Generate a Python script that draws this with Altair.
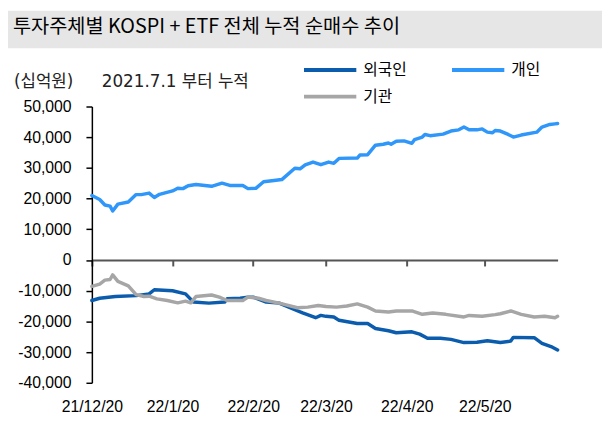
import altair as alt
import pandas as pd

# ---------------- data ----------------
series_names = ["외국인", "개인", "기관"]
series_colors = ["#0B5CAD", "#2F96FA", "#A6A6A6"]

foreign_dates = [
    "2021-12-20", "2021-12-23", "2021-12-29", "2022-01-06", "2022-01-11", "2022-01-13",
    "2022-01-20", "2022-01-25", "2022-01-28", "2022-02-03", "2022-02-09", "2022-02-10",
    "2022-02-15", "2022-02-18", "2022-02-20", "2022-02-25", "2022-03-02", "2022-03-08",
    "2022-03-11", "2022-03-16", "2022-03-18", "2022-03-20", "2022-03-23", "2022-03-25",
    "2022-04-01", "2022-04-05", "2022-04-08", "2022-04-13", "2022-04-16", "2022-04-22",
    "2022-04-25", "2022-04-28", "2022-05-03", "2022-05-07", "2022-05-12", "2022-05-17",
    "2022-05-21", "2022-05-26", "2022-05-30", "2022-05-31", "2022-06-08", "2022-06-11",
    "2022-06-15", "2022-06-17",
]
foreign_values = [
    -13200, -12450, -11900, -11600, -11050, -9680,
    -10000, -11050, -13700, -14050, -13700, -12650,
    -12450, -12100, -12100, -13700, -14050, -16200,
    -17250, -18800, -18050, -18350, -18550, -19650,
    -20700, -20700, -22300, -23050, -23700, -23400,
    -24150, -25500, -25500, -25850, -26900, -26800,
    -26300, -26900, -26400, -25200, -25300, -27150,
    -28400, -29300,
]

retail_dates = [
    "2021-12-20", "2021-12-23", "2021-12-25", "2021-12-27", "2021-12-28", "2021-12-30",
    "2022-01-03", "2022-01-06", "2022-01-08", "2022-01-11", "2022-01-13", "2022-01-15",
    "2022-01-20", "2022-01-22", "2022-01-24", "2022-01-26", "2022-01-29", "2022-02-04",
    "2022-02-08", "2022-02-11", "2022-02-16", "2022-02-18", "2022-02-21", "2022-02-24",
    "2022-02-28", "2022-03-03", "2022-03-08", "2022-03-10", "2022-03-12", "2022-03-15",
    "2022-03-18", "2022-03-21", "2022-03-23", "2022-03-25", "2022-04-01", "2022-04-02",
    "2022-04-05", "2022-04-08", "2022-04-11", "2022-04-13", "2022-04-14", "2022-04-16",
    "2022-04-19", "2022-04-22", "2022-04-23", "2022-04-26", "2022-04-27", "2022-04-29",
    "2022-05-04", "2022-05-07", "2022-05-10", "2022-05-12", "2022-05-14", "2022-05-17",
    "2022-05-19", "2022-05-21", "2022-05-23", "2022-05-24", "2022-05-26", "2022-05-29",
    "2022-05-31", "2022-06-03", "2022-06-09", "2022-06-11", "2022-06-14", "2022-06-16",
    "2022-06-17",
]
retail_values = [
    21000, 19700, 17900, 17550, 15950, 18200,
    18900, 21300, 21300, 21800, 20350, 21400,
    22500, 23400, 23250, 24200, 24600, 24000,
    25050, 24300, 24300, 23250, 23350, 25500,
    25900, 26200, 29900, 29700, 31000, 31900,
    31050, 31900, 31500, 33100, 33200, 34200,
    34300, 37400, 37700, 38100, 37700, 38700,
    38800, 38000, 39200, 40050, 40900, 40500,
    41000, 42000, 42400, 43300, 42400, 42400,
    42700, 41650, 41450, 42200, 42000, 40900,
    40050, 40700, 41650, 43300, 44150, 44350,
    44450,
]

inst_dates = [
    "2021-12-20", "2021-12-23", "2021-12-25", "2021-12-27", "2021-12-28", "2021-12-30",
    "2022-01-03", "2022-01-06", "2022-01-09", "2022-01-11", "2022-01-14", "2022-01-18",
    "2022-01-22", "2022-01-25", "2022-01-27", "2022-01-29", "2022-02-04", "2022-02-07",
    "2022-02-10", "2022-02-16", "2022-02-18", "2022-02-22", "2022-02-25", "2022-03-02",
    "2022-03-09", "2022-03-13", "2022-03-17", "2022-03-20", "2022-03-24", "2022-03-28",
    "2022-04-01", "2022-04-05", "2022-04-08", "2022-04-13", "2022-04-16", "2022-04-22",
    "2022-04-26", "2022-04-30", "2022-05-05", "2022-05-12", "2022-05-14", "2022-05-19",
    "2022-05-24", "2022-05-26", "2022-05-30", "2022-06-03", "2022-06-08", "2022-06-12",
    "2022-06-16", "2022-06-17",
]
inst_values = [
    -8600, -7850, -6560, -6350, -4850, -6980,
    -8400, -11300, -11900, -11800, -12650, -13200,
    -13950, -13400, -13950, -11900, -11400, -12100,
    -13200, -13200, -12100, -12450, -13200, -14050,
    -15550, -15350, -14800, -15150, -15350, -15000,
    -14300, -15350, -16600, -16950, -16600, -16600,
    -17700, -17270, -17700, -18550, -18050, -18350,
    -17800, -17500, -16600, -17700, -18550, -18350,
    -18800, -18350,
]

y_ticks = [-40000, -30000, -20000, -10000, 0, 10000, 20000, 30000, 40000, 50000]
x_tick_dates = [(2021, 12, 20), (2022, 1, 20), (2022, 2, 20), (2022, 3, 20), (2022, 4, 20), (2022, 5, 20)]
x_domain = [(2021, 12, 20), (2022, 6, 17)]

title_text = "투자주체별 KOSPI + ETF 전체 누적 순매수 추이"
unit_text = "(십억원)"
note_text = "2021.7.1 부터 누적"

# ---------------- table ----------------
frames = []
for name, d, v in [
    ("외국인", foreign_dates, foreign_values),
    ("개인", retail_dates, retail_values),
    ("기관", inst_dates, inst_values),
]:
    frames.append(pd.DataFrame({"date": pd.to_datetime(d), "value": v, "series": name}))
df = pd.concat(frames, ignore_index=True)

def dt(t):
    return alt.DateTime(year=t[0], month=t[1], date=t[2])

KFONT = "Noto Sans CJK KR"
NOTEFONT = "DejaVu Sans, Noto Sans CJK KR"
NFONT = "Liberation Sans, Arial, sans-serif"
one = pd.DataFrame({"k": [0]})

band = alt.Chart(one).mark_rect(color="#E6E6E6").encode(
    x=alt.value(-85), x2=alt.value(517), y=alt.value(-97), y2=alt.value(-59)
)
title = alt.Chart(one).mark_text(
    align="left", baseline="alphabetic", font=KFONT, fontSize=20, color="#000000"
).encode(x=alt.value(-80), y=alt.value(-74), text=alt.value(title_text))
unit = alt.Chart(one).mark_text(
    align="left", baseline="alphabetic", font=NOTEFONT, fontSize=17, color="#222222"
).encode(x=alt.value(-79), y=alt.value(-20), text=alt.value(unit_text))
note = alt.Chart(one).mark_text(
    align="left", baseline="alphabetic", font=NOTEFONT, fontSize=17, color="#222222"
).encode(x=alt.value(10), y=alt.value(-20), text=alt.value(note_text))

lines = alt.Chart(df).mark_line(strokeWidth=3.5, strokeJoin="round", strokeCap="round").encode(
    x=alt.X(
        "date:T",
        scale=alt.Scale(domain=[dt(x_domain[0]), dt(x_domain[1])]),
        axis=alt.Axis(
            values=[dt(t) for t in x_tick_dates], format="%y/%-m/%d", title=None, grid=False,
            offset=-124.4, tickSize=6, tickWidth=2, tickColor="#555555",
            domainColor="#555555", domainWidth=2, labelPadding=135,
            labelFont=NFONT, labelFontSize=16, labelColor="#000000",
            labelFlush=False, labelOverlap=False,
        ),
    ),
    y=alt.Y(
        "value:Q",
        scale=alt.Scale(domain=[-40000, 50000], nice=False),
        axis=alt.Axis(
            values=y_ticks, title=None, grid=False, tickSize=6, tickColor="#000000",
            domainColor="#000000", domainWidth=1.5, tickWidth=1.5, labelPadding=15,
            labelFont=NFONT, labelFontSize=16, labelColor="#000000",
            labelExpr="(datum.value < 0 ? '-' : '') + format(abs(datum.value), ',')",
        ),
    ),
    color=alt.Color(
        "series:N",
        scale=alt.Scale(domain=series_names, range=series_colors),
        sort=series_names,
        legend=alt.Legend(
            title=None, orient="none", legendX=212, legendY=-45, columns=2,
            direction="horizontal",
            symbolType="M-1,0H9.6", symbolSize=100, symbolStrokeWidth=4,
            labelOffset=47, columnPadding=37, rowPadding=11,
            labelFont=KFONT, labelFontSize=16, labelColor="#000000",
        ),
    ),
)

chart = alt.layer(band, title, unit, note, lines).properties(
    width=472,
    height=280,
    autosize=alt.AutoSizeParams(type="none"),
    padding={"left": 85, "top": 97, "right": 45, "bottom": 45},
    background="white",
).configure_view(stroke=None)

chart.save("out.html", embed_options={"renderer": "svg", "actions": False})
